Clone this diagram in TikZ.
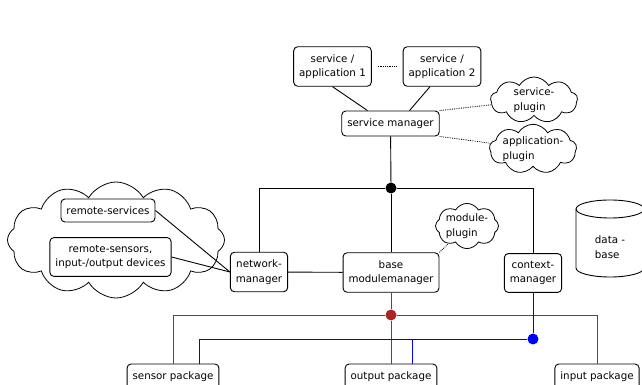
\documentclass[tikz,border=0pt]{standalone}
\usepackage{fontspec}
\setmainfont{DejaVu Sans}
\usetikzlibrary{shapes.symbols}

\definecolor{busred}{RGB}{168,38,38}
\definecolor{busblue}{RGB}{0,0,255}

\begin{document}
\begin{tikzpicture}[
    x=1pt, y=1pt,
    font=\fontsize{10.3}{14.5}\selectfont,
    box/.style={draw, rounded corners=4pt, line width=0.9pt, align=center, inner xsep=5.5pt, inner ysep=7.5pt},
    plugin/.style={cloud, draw, line width=0.8pt, cloud puffs=9, cloud puff arc=120, cloud ignores aspect, align=left, inner sep=0pt},
    link/.style={line width=0.9pt},
    hint/.style={densely dotted, line width=0.8pt},
    bus/.style={line width=0.8pt},
    joint/.style={circle, fill, inner sep=0pt, minimum size=11pt}
]
\useasboundingbox (0,0) rectangle (642,385);

% Nodes
\node[box] (app1) at (332.5,318.5) {service /\\application 1};
\node[box] (app2) at (442,318.5) {service /\\application 2};
\node[box] (smgr) at (390.5,261.5) {service manager};
\node[plugin, minimum width=87pt, minimum height=46pt] (splug) at (534,285) {service-\\plugin};
\node[plugin, minimum width=86pt, minimum height=43pt] (aplug) at (533,236) {application-\\plugin};

\node[plugin, cloud puffs=12, minimum width=217pt, minimum height=116pt] (remote) at (116,145) {};
\node[box] (rsvc) at (108,174.5) {remote-services};
\node[box] (rsens) at (110.5,128) {remote-sensors,\\input-/output devices};

\node[box] (netmgr) at (259,113) {network-\\manager};
\node[box] (basemgr) at (391,112.5) {base\\modulemanager};
\node[box] (ctxmgr) at (533,112) {context-\\manager};
\node[plugin, cloud puffs=8, minimum width=63pt, minimum height=36pt] (mplug) at (467,159) {module-\\plugin};
\node[align=left] (db) at (610,138) {data -\\base};

\node[box] (sensor) at (173,8.5) {sensor package};
\node[box] (output) at (391,8.5) {output package};
\node[box] (input) at (597,8.5) {input package};

% Database drum
\draw[line width=0.9pt] (576,176) -- (576,117) arc[start angle=180, end angle=360, x radius=34, y radius=9] -- (644,176);
\draw[line width=0.9pt] (610,176) ellipse [x radius=34, y radius=9];

% Junctions
\node[joint] (hub) at (391,197) {};
\node[joint, busred] (redhub) at (391,70) {};
\node[joint, busblue] (bluehub) at (533,46) {};

% Service layer
\draw[link] (app1.south) -- ([xshift=-23pt]smgr.north);
\draw[link] ([xshift=-12pt]app2.south) -- ([xshift=19pt]smgr.north);
\draw[hint, shorten <=6pt, shorten >=6pt] (app1) -- (app2);
\draw[hint] (smgr.north east) -- (splug);
\draw[hint] (smgr.south east) -- (aplug);

% Manager bus
\draw[link] (smgr) -- (hub);
\draw[link] (hub) -| (netmgr);
\draw[link] (hub) -| (ctxmgr);
\draw[link] (hub) -- (basemgr);
\draw[link] (netmgr) -- (basemgr);
\draw[hint] (basemgr.north east) -- (mplug);
\draw[link] (rsvc.east) -- (netmgr.west);
\draw[link] (rsens.east) -- (netmgr.west);

% Package buses
\draw[bus, busred] (basemgr) -- (redhub);
\draw[bus, busred] (redhub) -| (sensor);
\draw[bus, busred] (redhub) -| (input);
\draw[bus, busred] (redhub) -- (output);
\draw[bus, busblue] (ctxmgr) -- (bluehub);
\draw[bus, busblue] (bluehub) -| ([xshift=26pt]sensor.north);
\draw[bus, busblue] (bluehub) -| ([xshift=21pt]output.north);

\end{tikzpicture}
\end{document}
